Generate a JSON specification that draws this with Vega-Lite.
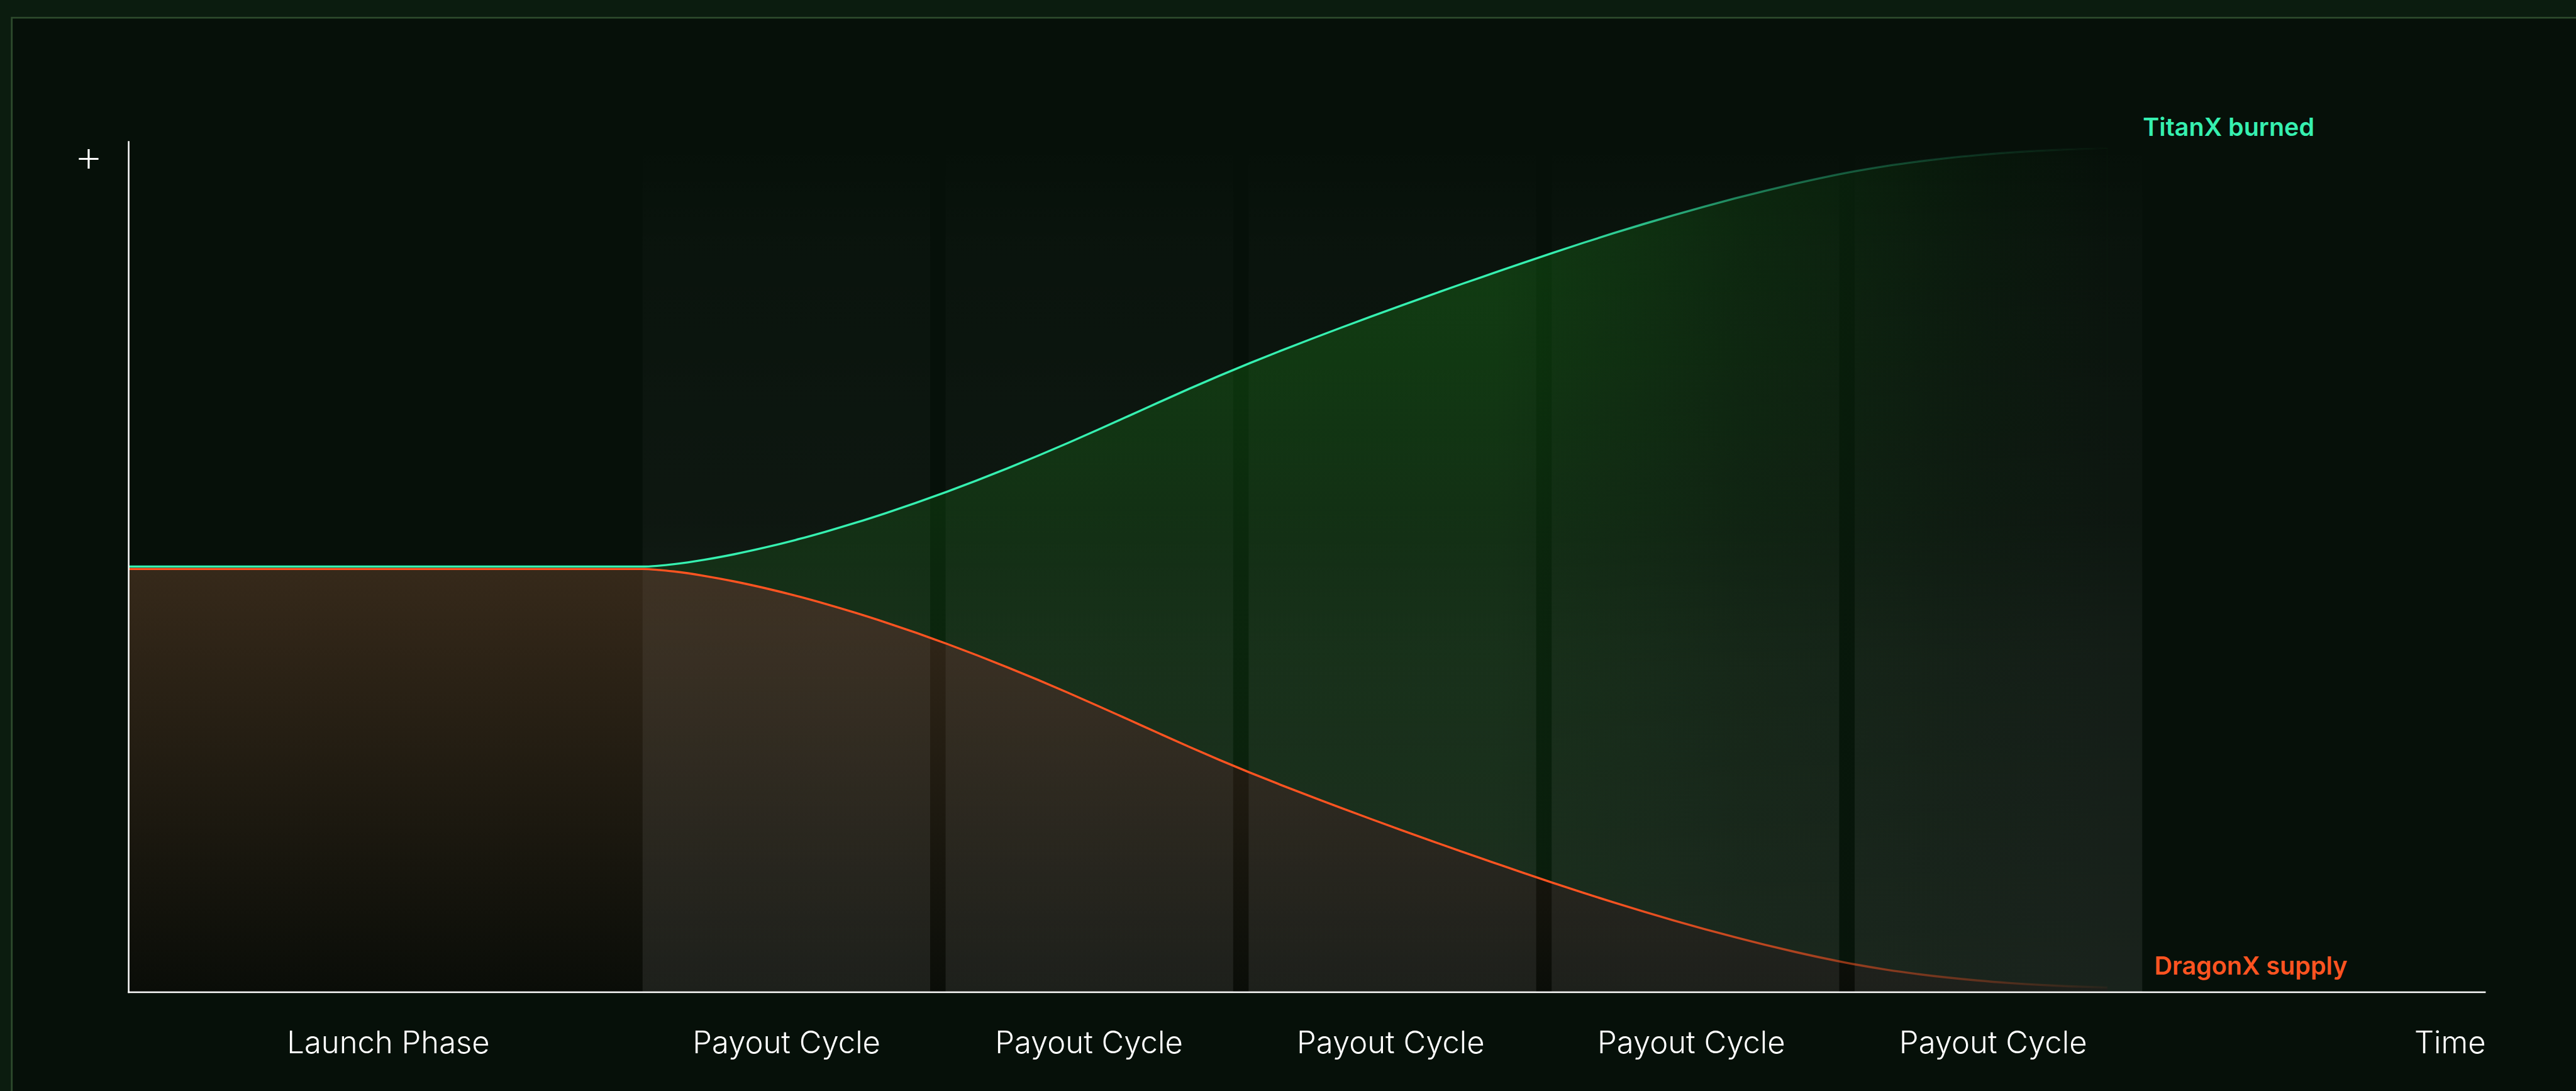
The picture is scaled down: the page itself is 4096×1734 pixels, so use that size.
{
  "$schema": "https://vega.github.io/schema/vega-lite/v6.json",
  "width": 3746.6,
  "height": 1351.3,
  "autosize": {"type": "none"},
  "padding": {"left": 204.6, "top": 225.6, "right": 144.8, "bottom": 157.1},
  "background": "#061009",
  "config": {"view": {"stroke": null, "fill": null}, "font": "Inter"},
  "datasets": {
    "curves": [
      {"t": 0, "titanx": 50.05, "dragonx": 49.77},
      {"t": 1.696, "titanx": 50.05, "dragonx": 49.77},
      {"t": 1.75, "titanx": 50.16, "dragonx": 49.66},
      {"t": 1.8, "titanx": 50.34, "dragonx": 49.48},
      {"t": 1.9, "titanx": 50.86, "dragonx": 48.96},
      {"t": 2.0, "titanx": 51.52, "dragonx": 48.3},
      {"t": 2.1, "titanx": 52.3, "dragonx": 47.52},
      {"t": 2.2, "titanx": 53.18, "dragonx": 46.64},
      {"t": 2.3, "titanx": 54.16, "dragonx": 45.66},
      {"t": 2.4, "titanx": 55.22, "dragonx": 44.6},
      {"t": 2.5, "titanx": 56.36, "dragonx": 43.46},
      {"t": 2.6, "titanx": 57.57, "dragonx": 42.25},
      {"t": 2.7, "titanx": 58.85, "dragonx": 40.97},
      {"t": 2.8, "titanx": 60.2, "dragonx": 39.62},
      {"t": 2.9, "titanx": 61.61, "dragonx": 38.21},
      {"t": 3.0, "titanx": 63.08, "dragonx": 36.74},
      {"t": 3.1, "titanx": 64.6, "dragonx": 35.22},
      {"t": 3.2, "titanx": 66.17, "dragonx": 33.65},
      {"t": 3.3, "titanx": 67.77, "dragonx": 32.05},
      {"t": 3.4, "titanx": 69.38, "dragonx": 30.44},
      {"t": 3.5, "titanx": 70.97, "dragonx": 28.85},
      {"t": 3.6, "titanx": 72.51, "dragonx": 27.31},
      {"t": 3.7, "titanx": 73.99, "dragonx": 25.83},
      {"t": 3.8, "titanx": 75.41, "dragonx": 24.41},
      {"t": 3.9, "titanx": 76.79, "dragonx": 23.03},
      {"t": 4.0, "titanx": 78.14, "dragonx": 21.68},
      {"t": 4.1, "titanx": 79.46, "dragonx": 20.36},
      {"t": 4.2, "titanx": 80.76, "dragonx": 19.06},
      {"t": 4.3, "titanx": 82.04, "dragonx": 17.78},
      {"t": 4.4, "titanx": 83.3, "dragonx": 16.52},
      {"t": 4.5, "titanx": 84.53, "dragonx": 15.29},
      {"t": 4.6, "titanx": 85.76, "dragonx": 14.06},
      {"t": 4.7, "titanx": 86.96, "dragonx": 12.86},
      {"t": 4.8, "titanx": 88.13, "dragonx": 11.69},
      {"t": 4.9, "titanx": 89.26, "dragonx": 10.56},
      {"t": 5.0, "titanx": 90.35, "dragonx": 9.47},
      {"t": 5.1, "titanx": 91.4, "dragonx": 8.42},
      {"t": 5.2, "titanx": 92.4, "dragonx": 7.42},
      {"t": 5.3, "titanx": 93.35, "dragonx": 6.47},
      {"t": 5.4, "titanx": 94.25, "dragonx": 5.57},
      {"t": 5.5, "titanx": 95.09, "dragonx": 4.73},
      {"t": 5.6, "titanx": 95.87, "dragonx": 3.95},
      {"t": 5.7, "titanx": 96.57, "dragonx": 3.25},
      {"t": 5.8, "titanx": 97.17, "dragonx": 2.65},
      {"t": 5.9, "titanx": 97.67, "dragonx": 2.15},
      {"t": 6.0, "titanx": 98.09, "dragonx": 1.73},
      {"t": 6.1, "titanx": 98.44, "dragonx": 1.38},
      {"t": 6.2, "titanx": 98.73, "dragonx": 1.09},
      {"t": 6.3, "titanx": 98.95, "dragonx": 0.87},
      {"t": 6.4, "titanx": 99.12, "dragonx": 0.7},
      {"t": 6.53, "titanx": 99.27, "dragonx": 0.55}
    ],
    "cycles": [
      {"cycle": "Payout Cycle 1", "start": 1.696, "end": 2.645},
      {"cycle": "Payout Cycle 2", "start": 2.696, "end": 3.645},
      {"cycle": "Payout Cycle 3", "start": 3.696, "end": 4.645},
      {"cycle": "Payout Cycle 4", "start": 4.696, "end": 5.645},
      {"cycle": "Payout Cycle 5", "start": 5.696, "end": 6.645}
    ],
    "phaseLabels": [
      {"label": "Launch Phase", "t": 0.857},
      {"label": "Payout Cycle", "t": 2.171},
      {"label": "Payout Cycle", "t": 3.169},
      {"label": "Payout Cycle", "t": 4.165},
      {"label": "Payout Cycle", "t": 5.157},
      {"label": "Payout Cycle", "t": 6.153},
      {"label": "Time", "t": 7.661}
    ]
  },
  "layer": [
    {
      "data": {"values": [{}]},
      "mark": {"type": "rect", "fill": null, "stroke": "#0b1c0f", "strokeWidth": 57.4},
      "encoding": {
        "x": {"datum": -0.4484, "type": "quantitative", "scale": {"domain": [0, 7.776], "nice": false, "zero": false}, "axis": null},
        "x2": {"datum": 12},
        "y": {"datum": 116.84, "type": "quantitative", "scale": {"domain": [0, 100], "nice": false, "zero": false}, "axis": null},
        "y2": {"datum": -40}
      }
    },
    {
      "data": {"values": [{}]},
      "mark": {"type": "rect", "fill": null, "stroke": "#2d4a2c", "strokeWidth": 2.87},
      "encoding": {
        "x": {"datum": -0.3859, "type": "quantitative", "scale": {"domain": [0, 7.776], "nice": false, "zero": false}, "axis": null},
        "x2": {"datum": 10},
        "y": {"datum": 114.61, "type": "quantitative", "scale": {"domain": [0, 100], "nice": false, "zero": false}, "axis": null},
        "y2": {"datum": -30}
      }
    },
    {
      "data": {"name": "curves"},
      "mark": {
        "type": "area", "interpolate": "monotone",
        "fill": {"gradient": "linear", "x1": 0, "y1": 0, "x2": 0, "y2": 1,
          "stops": [{"offset": 0, "color": "#36291a"}, {"offset": 1, "color": "#0a0d08"}]}
      },
      "encoding": {
        "x": {"field": "t", "type": "quantitative", "scale": {"domain": [0, 7.776], "nice": false, "zero": false}, "axis": null},
        "y": {"field": "dragonx", "type": "quantitative", "stack": null, "scale": {"domain": [0, 100], "nice": false, "zero": false}, "axis": null}
      }
    },
    {
      "data": {"name": "curves"},
      "mark": {
        "type": "area", "interpolate": "monotone",
        "fill": {"gradient": "linear", "x1": 0, "y1": 0, "x2": 0, "y2": 1,
          "stops": [
            {"offset": 0, "color": "#0e3c10"},
            {"offset": 0.25, "color": "#0c340d"},
            {"offset": 0.5, "color": "#0b270d"},
            {"offset": 1, "color": "#091c0c"}
          ]}
      },
      "encoding": {
        "x": {"field": "t", "type": "quantitative", "scale": {"domain": [0, 7.776], "nice": false, "zero": false}, "axis": null},
        "y": {"field": "titanx", "type": "quantitative", "scale": {"domain": [0, 100], "nice": false, "zero": false}, "axis": null},
        "y2": {"field": "dragonx"}
      }
    },
    {
      "data": {"name": "curves"},
      "mark": {
        "type": "area", "interpolate": "monotone",
        "fill": {"gradient": "linear", "x1": 0, "y1": 0, "x2": 1, "y2": 0,
          "stops": [
            {"offset": 0, "color": "rgba(6,16,9,0)"},
            {"offset": 0.69, "color": "rgba(6,16,9,0)"},
            {"offset": 0.816, "color": "rgba(6,16,9,0.5)"},
            {"offset": 0.862, "color": "rgba(6,16,9,0.62)"},
            {"offset": 0.938, "color": "rgba(6,16,9,0.86)"},
            {"offset": 1, "color": "rgba(6,16,9,1)"}
          ]}
      },
      "encoding": {
        "x": {"field": "t", "type": "quantitative", "scale": {"domain": [0, 7.776], "nice": false, "zero": false}, "axis": null},
        "y": {"field": "titanx", "type": "quantitative", "scale": {"domain": [0, 100], "nice": false, "zero": false}, "axis": null},
        "y2": {"field": "dragonx"}
      }
    },
    {
      "data": {"name": "cycles"},
      "mark": {
        "type": "rect",
        "fill": {"gradient": "linear", "x1": 0, "y1": 0, "x2": 0, "y2": 1,
          "stops": [
            {"offset": 0, "color": "rgba(255,255,255,0)"},
            {"offset": 0.12, "color": "rgba(255,255,255,0.014)"},
            {"offset": 0.45, "color": "rgba(255,255,255,0.032)"},
            {"offset": 0.6, "color": "rgba(255,255,255,0.055)"},
            {"offset": 1, "color": "rgba(255,255,255,0.08)"}
          ]}
      },
      "encoding": {
        "x": {"field": "start", "type": "quantitative", "scale": {"domain": [0, 7.776], "nice": false, "zero": false}, "axis": null},
        "x2": {"field": "end"},
        "y": {"datum": 100, "type": "quantitative", "scale": {"domain": [0, 100], "nice": false, "zero": false}, "axis": null},
        "y2": {"datum": 0}
      }
    },
    {
      "data": {"name": "curves"},
      "mark": {
        "type": "line", "interpolate": "monotone", "strokeWidth": 3.4,
        "stroke": {"gradient": "linear", "x1": 0, "y1": 0, "x2": 1, "y2": 0,
          "stops": [
            {"offset": 0, "color": "#36F0B0"},
            {"offset": 0.72, "color": "#36F0B0"},
            {"offset": 0.82, "color": "rgba(54,240,176,0.45)"},
            {"offset": 0.91, "color": "rgba(54,240,176,0.18)"},
            {"offset": 1, "color": "rgba(54,240,176,0)"}
          ]}
      },
      "encoding": {
        "x": {"field": "t", "type": "quantitative", "scale": {"domain": [0, 7.776], "nice": false, "zero": false}, "axis": null},
        "y": {"field": "titanx", "type": "quantitative", "scale": {"domain": [0, 100], "nice": false, "zero": false}, "axis": null}
      }
    },
    {
      "data": {"name": "curves"},
      "mark": {
        "type": "line", "interpolate": "monotone", "strokeWidth": 3.4,
        "stroke": {"gradient": "linear", "x1": 0, "y1": 0, "x2": 1, "y2": 0,
          "stops": [
            {"offset": 0, "color": "#FF5421"},
            {"offset": 0.74, "color": "#FF5421"},
            {"offset": 0.82, "color": "rgba(255,84,33,0.72)"},
            {"offset": 0.91, "color": "rgba(255,84,33,0.4)"},
            {"offset": 0.96, "color": "rgba(255,84,33,0.2)"},
            {"offset": 1, "color": "rgba(255,84,33,0.05)"}
          ]}
      },
      "encoding": {
        "x": {"field": "t", "type": "quantitative", "scale": {"domain": [0, 7.776], "nice": false, "zero": false}, "axis": null},
        "y": {"field": "dragonx", "type": "quantitative", "scale": {"domain": [0, 100], "nice": false, "zero": false}, "axis": null}
      }
    },
    {
      "data": {"values": [{}]},
      "mark": {"type": "rule", "color": "#ffffff", "strokeWidth": 2.5, "strokeCap": "square"},
      "encoding": {
        "x": {"datum": 0, "type": "quantitative", "scale": {"domain": [0, 7.776], "nice": false, "zero": false}, "axis": null},
        "x2": {"datum": 7.776},
        "y": {"datum": 0, "type": "quantitative", "scale": {"domain": [0, 100], "nice": false, "zero": false}, "axis": null}
      }
    },
    {
      "data": {"values": [{}]},
      "mark": {"type": "rule", "color": "#ffffff", "strokeWidth": 2.5, "strokeCap": "square"},
      "encoding": {
        "x": {"datum": 0, "type": "quantitative", "scale": {"domain": [0, 7.776], "nice": false, "zero": false}, "axis": null},
        "y": {"datum": 0, "type": "quantitative", "scale": {"domain": [0, 100], "nice": false, "zero": false}, "axis": null},
        "y2": {"datum": 100}
      }
    },
    {
      "data": {"name": "phaseLabels"},
      "mark": {"type": "text", "align": "center", "baseline": "alphabetic", "font": "Inter", "fontWeight": 300, "fontSize": 49, "fill": "#ffffff"},
      "encoding": {
        "x": {"field": "t", "type": "quantitative", "scale": {"domain": [0, 7.776], "nice": false, "zero": false}, "axis": null},
        "y": {"datum": -7.18, "type": "quantitative", "scale": {"domain": [0, 100], "nice": false, "zero": false}, "axis": null},
        "text": {"field": "label"}
      }
    },
    {
      "data": {"values": [{}]},
      "mark": {"type": "text", "text": "+", "align": "center", "baseline": "middle", "font": "Inter", "fontWeight": 200, "fontSize": 72, "fill": "#ffffff"},
      "encoding": {
        "x": {"datum": -0.132, "type": "quantitative", "scale": {"domain": [0, 7.776], "nice": false, "zero": false}, "axis": null},
        "y": {"datum": 98.1, "type": "quantitative", "scale": {"domain": [0, 100], "nice": false, "zero": false}, "axis": null}
      }
    },
    {
      "data": {"values": [{}]},
      "mark": {"type": "text", "text": "TitanX burned", "align": "left", "baseline": "alphabetic", "font": "Inter", "fontWeight": 600, "fontSize": 39.5, "fill": "#36F0B0"},
      "encoding": {
        "x": {"datum": 6.647, "type": "quantitative", "scale": {"domain": [0, 7.776], "nice": false, "zero": false}, "axis": null},
        "y": {"datum": 100.73, "type": "quantitative", "scale": {"domain": [0, 100], "nice": false, "zero": false}, "axis": null}
      }
    },
    {
      "data": {"values": [{}]},
      "mark": {"type": "text", "text": "DragonX supply", "align": "left", "baseline": "alphabetic", "font": "Inter", "fontWeight": 600, "fontSize": 39.5, "fill": "#FF5421"},
      "encoding": {
        "x": {"datum": 6.685, "type": "quantitative", "scale": {"domain": [0, 7.776], "nice": false, "zero": false}, "axis": null},
        "y": {"datum": 2.04, "type": "quantitative", "scale": {"domain": [0, 100], "nice": false, "zero": false}, "axis": null}
      }
    }
  ]
}
